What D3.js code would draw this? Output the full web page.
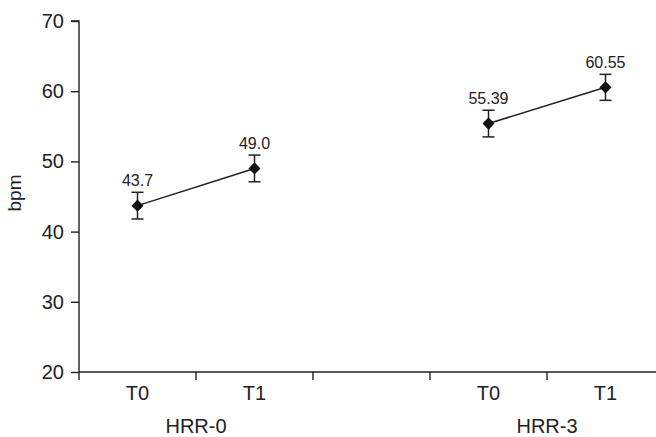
<!DOCTYPE html>
<html><head><meta charset="utf-8">
<script src="https://cdn.jsdelivr.net/npm/d3@7"></script>
<style>body{margin:0;background:#fff}svg{display:block}text{font-family:"Liberation Sans",Arial,sans-serif;fill:#222}</style>
</head><body><svg id="c" width="656" height="437"></svg>
<script>
const slots = ["a","b","gap","c","d"];
const slotLabels = ["T0","T1","","T0","T1"];
const groups = ["HRR-0","HRR-3"];
const groupSlots = [["a","b"],["c","d"]];
const seriesSlots = ["a","b","c","d"];
const values = [43.7, 49.0, 55.39, 60.55];
const valueLabels = ["43.7","49.0","55.39","60.55"];
const errors = [1.9, 1.9, 1.9, 1.85];
const yTicks = [20,30,40,50,60,70];

const svg = d3.select("#c");
const mLeft = 79, mRight = 664, mTop = 21, mBottom = 372;
const x = d3.scaleBand().domain(slots).range([mLeft, mRight]);
const y = d3.scaleLinear().domain([20,70]).range([mBottom, mTop]);
const ink = "#222";

// y axis
const ya = svg.append("g").attr("transform",`translate(${mLeft},0)`)
  .call(d3.axisLeft(y).tickValues(yTicks).tickSize(8).tickPadding(7).tickFormat(d3.format("d")));
ya.select(".domain").attr("stroke",ink).attr("stroke-width",1.4).attr("d",`M-8,${mTop}H0V${mBottom}`);
ya.selectAll("line").attr("stroke",ink).attr("stroke-width",1.4);
ya.selectAll("text").attr("font-size",20).style("font-family","Liberation Sans, Arial").attr("fill",ink);

// x axis (boundary ticks)
const xa = svg.append("g");
xa.append("line").attr("x1",mLeft).attr("x2",mRight).attr("y1",mBottom).attr("y2",mBottom).attr("stroke",ink).attr("stroke-width",1.4);
const bounds = slots.map(s => x(s));
xa.selectAll(".bt").data(bounds).join("line")
  .attr("x1",d=>d).attr("x2",d=>d).attr("y1",mBottom).attr("y2",mBottom+8).attr("stroke",ink).attr("stroke-width",1.4);
xa.selectAll(".sl").data(slots).join("text")
  .attr("x",d=>x(d)+x.bandwidth()/2).attr("y",mBottom+28).attr("text-anchor","middle").attr("font-size",20)
  .text((d,i)=>slotLabels[i]);
xa.selectAll(".gl").data(groups).join("text")
  .attr("x",(d,i)=>x(groupSlots[i][1])).attr("y",mBottom+61).attr("text-anchor","middle").attr("font-size",20)
  .text(d=>d);

// y label
svg.append("text").attr("transform",`translate(21,193) rotate(-90)`)
  .attr("text-anchor","middle").attr("font-size",19).text("bpm");

const cx = s => x(s) + x.bandwidth()/2;
// lines per group
groupSlots.forEach(gs => {
  const idx = gs.map(s => seriesSlots.indexOf(s));
  svg.append("path").attr("fill","none").attr("stroke",ink).attr("stroke-width",1.5)
    .attr("d", d3.line().x(i=>cx(seriesSlots[i])).y(i=>y(values[i]))(idx));
});
// error bars
const eb = svg.append("g").attr("stroke",ink).attr("stroke-width",1.5);
values.forEach((v,i)=>{
  const X = cx(seriesSlots[i]);
  eb.append("line").attr("x1",X).attr("x2",X).attr("y1",y(v+errors[i])).attr("y2",y(v-errors[i]));
  eb.append("line").attr("x1",X-6).attr("x2",X+6).attr("y1",y(v+errors[i])).attr("y2",y(v+errors[i]));
  eb.append("line").attr("x1",X-6).attr("x2",X+6).attr("y1",y(v-errors[i])).attr("y2",y(v-errors[i]));
});
// diamonds
svg.selectAll(".pt").data(values).join("path")
  .attr("transform",(d,i)=>`translate(${cx(seriesSlots[i])},${y(d)})`)
  .attr("d","M0,-6.2L6,0L0,6.2L-6,0Z").attr("fill","#111");
// value labels
svg.selectAll(".vl").data(values).join("text")
  .attr("x",(d,i)=>cx(seriesSlots[i])).attr("y",(d,i)=>y(d+errors[i])-6.5)
  .attr("text-anchor","middle").attr("font-size",16).text((d,i)=>valueLabels[i]);
</script></body></html>
